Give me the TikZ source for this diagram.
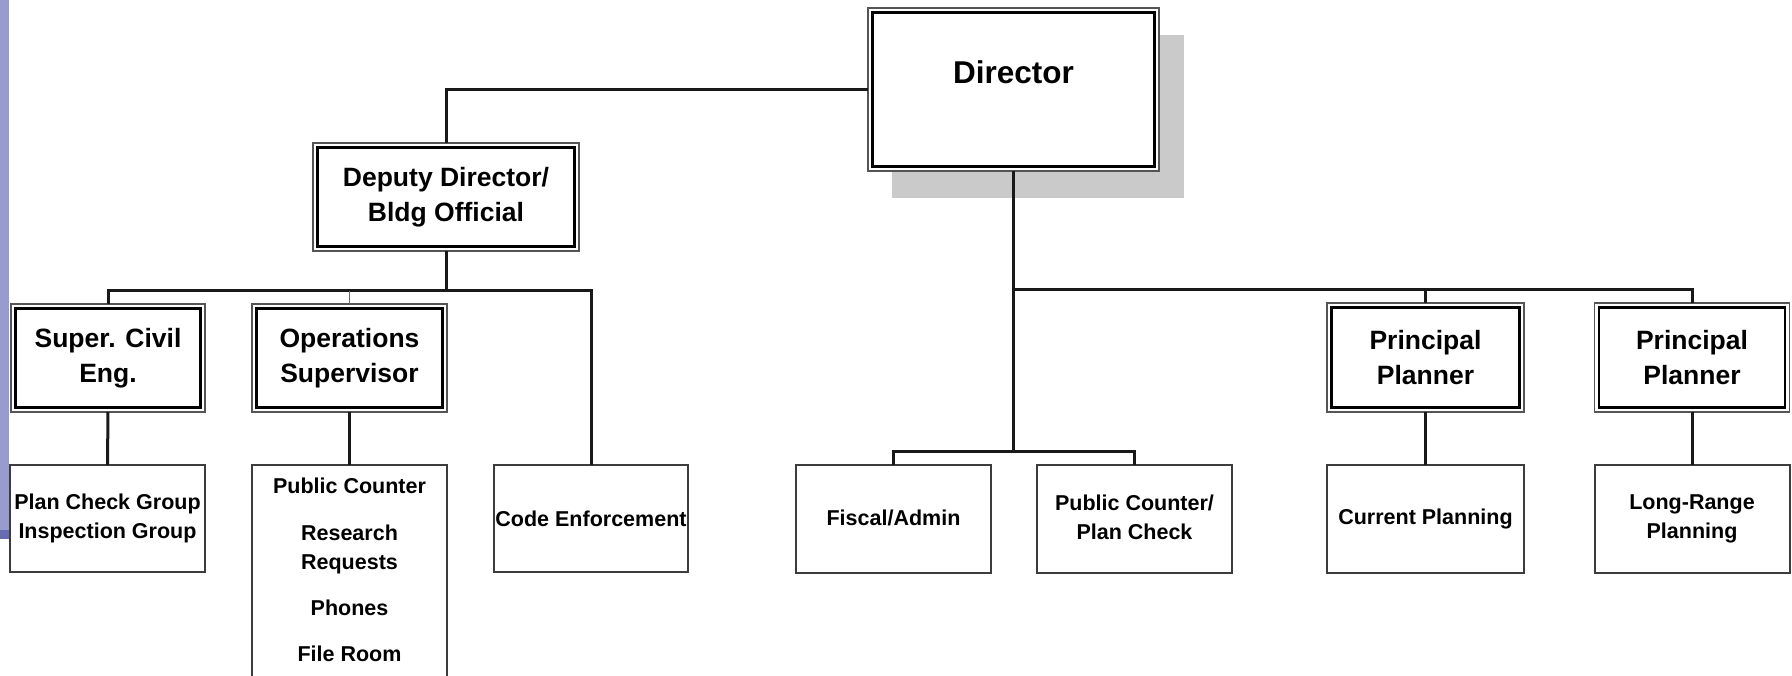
\documentclass[tikz,border=0pt]{standalone}
\usepackage{fontspec}
\setmainfont{Liberation Sans}
\definecolor{barblue}{RGB}{150,156,208}
\definecolor{bandblue}{RGB}{104,108,176}
\definecolor{shadowgray}{RGB}{202,202,202}
\definecolor{outergray}{RGB}{85,85,85}
\definecolor{boxgray}{RGB}{60,60,60}
\tikzset{
  titlebox/.style={draw=outergray, line width=1.6pt, fill=white, inner sep=0pt, outer sep=0pt,
    align=center, font=\fontsize{26.5}{35}\selectfont\bfseries},
  plainbox/.style={draw=boxgray, line width=2pt, fill=white, inner sep=0pt, outer sep=0pt,
    align=center, font=\fontsize{21.5}{29}\selectfont\bfseries},
  innerline/.style={draw=black, line width=2.2pt},
  conn/.style={draw=black!90, line width=3pt},
  txt/.style={inner sep=0pt, align=center, font=\fontsize{21.5}{29}\selectfont\bfseries}
}
\begin{document}
\begin{tikzpicture}[x=1pt,y=-1pt]
\useasboundingbox (0,0) rectangle (1792,676);
\clip (0,0) rectangle (1792,676);
\fill[white] (0,0) rectangle (1792,676);
% slide decoration
\fill[barblue] (0,0) rectangle (9,530);
\fill[bandblue] (0,530) rectangle (120,539);
% Director shadow
\fill[shadowgray] (892,35) rectangle (1184,198);

% title boxes
\node[titlebox, minimum width=291pt, minimum height=163pt] (dir) at (1013.5,89.5)
  {\fontsize{31.5}{38}\selectfont\raisebox{5.5pt}[0pt][0pt]{Director}};
\node[titlebox, minimum width=266pt, minimum height=108pt] (dep) at (446,197) {Deputy Director/\\Bldg Official};
\node[titlebox, minimum width=194pt, minimum height=108pt] (sce) at (108,358) {Super. Civil\\Eng.};
\node[titlebox, minimum width=195pt, minimum height=108pt] (ops) at (349.5,358) {Operations\\Supervisor};
\node[titlebox, minimum width=197pt, minimum height=109pt] (pp1) at (1425.5,357.5) {Principal\\Planner};
\node[titlebox, minimum width=195pt, minimum height=109pt] (pp2) at (1692,357.5) {Principal\\Planner};

\foreach \n in {dir,dep,sce,ops,pp1,pp2}
  \draw[innerline] ([shift={(4.5,4.5)}]\n.north west) rectangle ([shift={(-4.5,-4.5)}]\n.south east);

% lower boxes
\node[plainbox, minimum width=195pt, minimum height=107pt] (pcg) at (107.5,518.5) {Plan Check Group\\Inspection Group};
\node[plainbox, minimum width=195pt, minimum height=260pt, anchor=north] (opsb) at (349.5,465) {};
\node[txt] (t1) at (349.5,486) {Public Counter};
\node[txt] (t2) at (349.5,549) {Research\\Requests};
\node[txt] (t3) at (349.5,608) {Phones};
\node[txt] (t4) at (349.5,654) {File Room};
\node[plainbox, minimum width=194pt, minimum height=107pt] (ce) at (591,518.5) {Code Enforcement};
\node[plainbox, minimum width=195pt, minimum height=108pt] (fis) at (893.5,519) {\raisebox{3pt}{Fiscal/Admin}};
\node[plainbox, minimum width=195pt, minimum height=108pt] (pcp) at (1134.5,519) {\raisebox{3pt}{\begin{tabular}{@{}c@{}}Public Counter/\\Plan Check\end{tabular}}};
\node[plainbox, minimum width=197pt, minimum height=108pt] (cp) at (1425.5,519) {Current Planning};
\node[plainbox, minimum width=195pt, minimum height=108pt] (lrp) at (1692,519) {Long-Range\\Planning};

% connector junctions
\coordinate (lb) at (446,291);
\coordinate (rb) at (1013.5,290);
\coordinate (fb) at (1013.5,451);

% connectors
\draw[conn] (dir.west) -| (dep.north);
\draw[conn] (dep.south) -- (lb);
\draw[conn] (sce.north) |- (lb) -| (ce.north);
\draw[draw=black!60, line width=1.6pt] (ops.north) -- (ops.north |- lb);
\draw[conn] (sce.south) -- (pcg.north);
\draw[conn] (ops.south) -- (opsb.north);
\draw[conn] (dir.south) -- (fb);
\draw[conn] (fis.north) |- (fb) -| (pcp.north);
\draw[conn] (rb) -| (pp2.north);
\draw[conn] (pp1.north) -- (pp1.north |- rb);
\draw[conn] (pp1.south) -- (cp.north);
\draw[conn] (pp2.south) -- (lrp.north);
\end{tikzpicture}
\end{document}
